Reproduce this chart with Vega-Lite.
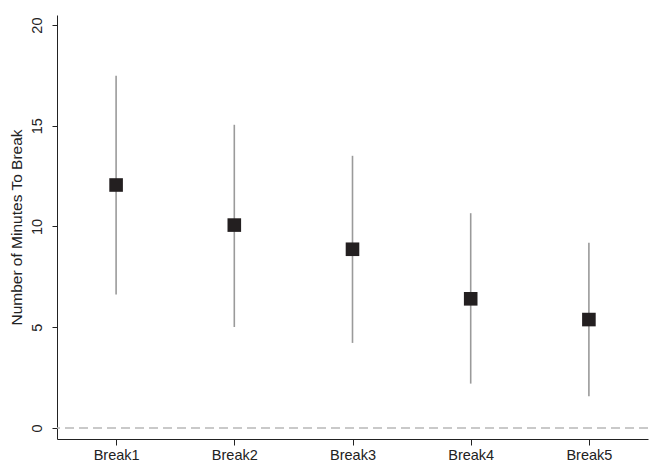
{
  "$schema": "https://vega.github.io/schema/vega-lite/v6.json",
  "width": 591,
  "height": 424,
  "autosize": "none",
  "padding": {"left": 57, "top": 15, "right": 1, "bottom": 24},
  "background": "white",
  "config": {
    "view": {"stroke": null},
    "font": "Liberation Sans",
    "axis": {"grid": false, "domainColor": "#222", "tickColor": "#222", "labelColor": "#222", "titleColor": "#222", "labelFont": "Liberation Sans", "titleFont": "Liberation Sans", "titleFontWeight": "normal"}
  },
  "data": {
    "values": [
      {"cat": "Break1", "mean": 12.06, "lo": 6.63, "hi": 17.49},
      {"cat": "Break2", "mean": 10.07, "lo": 5.01, "hi": 15.05},
      {"cat": "Break3", "mean": 8.87, "lo": 4.22, "hi": 13.51},
      {"cat": "Break4", "mean": 6.41, "lo": 2.2, "hi": 10.66},
      {"cat": "Break5", "mean": 5.38, "lo": 1.57, "hi": 9.19}
    ]
  },
  "layer": [
    {
      "data": {"values": [{"z": 0}]},
      "mark": {"type": "rule", "color": "#b8b8b8", "strokeWidth": 1.5, "strokeDash": [9, 5]},
      "encoding": {"y": {"field": "z", "type": "quantitative", "scale": {"domain": [-0.55, 20.5], "nice": false, "zero": false}}}
    },
    {
      "mark": {"type": "rule", "color": "#9a9a9a", "strokeWidth": 1.6},
      "encoding": {
        "x": {"field": "cat", "type": "ordinal", "scale": {"type": "point", "padding": 0.5},
          "axis": {"title": null, "labelAngle": 0, "labelFontSize": 14.5, "tickSize": 6, "labelPadding": 3, "domainWidth": 1}},
        "y": {"field": "lo", "type": "quantitative", "scale": {"domain": [-0.55, 20.5], "nice": false, "zero": false},
          "axis": {"title": "Number of Minutes To Break", "titleFontSize": 15.5, "titlePadding": 5, "values": [0, 5, 10, 15, 20], "labelAngle": -90, "labelAlign": "center", "labelBaseline": "bottom", "labelFontSize": 14.5, "labelPadding": 8, "tickSize": 5}},
        "y2": {"field": "hi"}
      }
    },
    {
      "mark": {"type": "square", "color": "#231f20", "opacity": 1, "size": 185, "filled": true},
      "encoding": {
        "x": {"field": "cat", "type": "ordinal"},
        "y": {"field": "mean", "type": "quantitative"}
      }
    }
  ]
}
